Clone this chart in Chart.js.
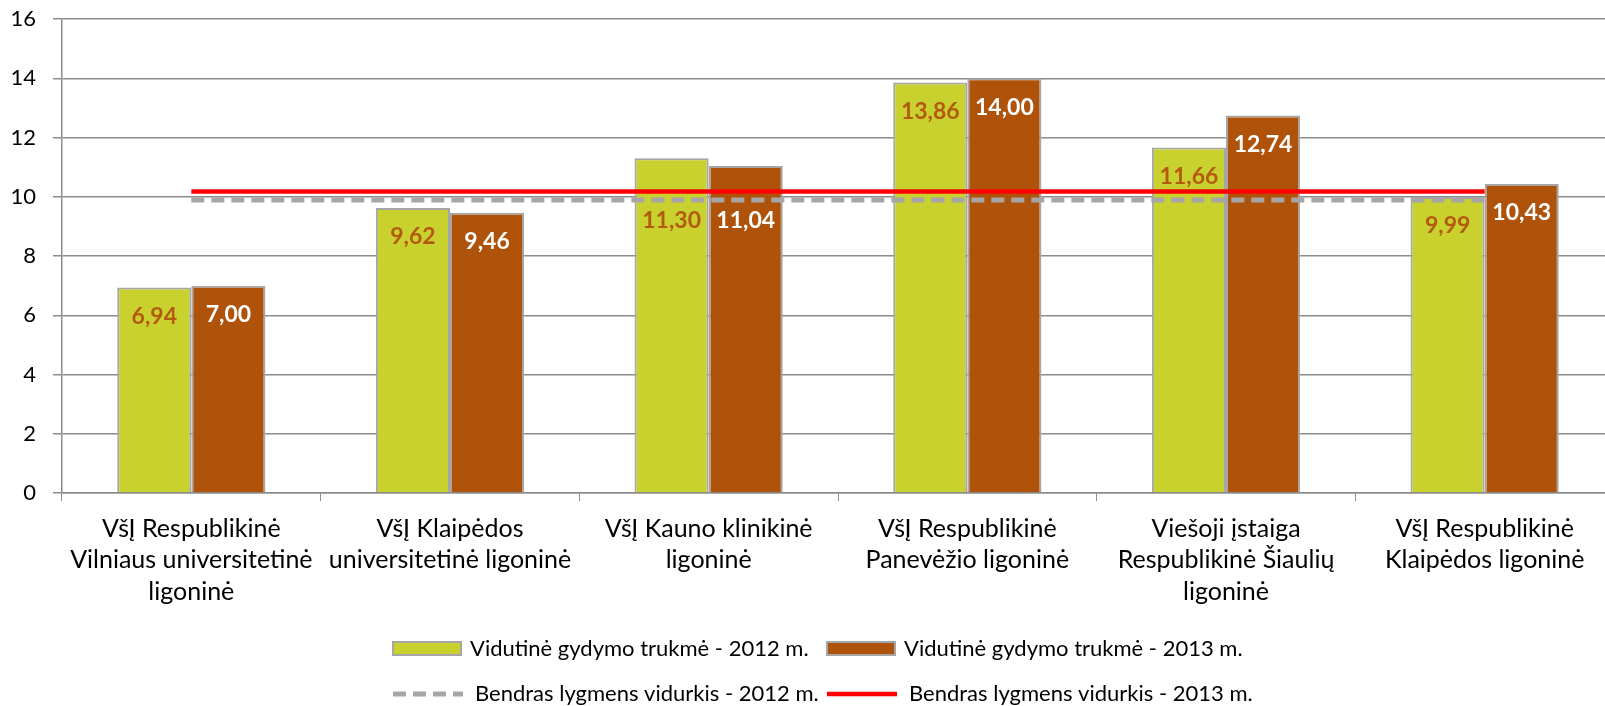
<!DOCTYPE html>
<html>
<head>
<meta charset="utf-8">
<script src="https://cdn.jsdelivr.net/npm/chart.js@4.4.0/dist/chart.umd.min.js"></script>
<style>
	html, body { margin: 0; padding: 0; background: #ffffff; overflow: hidden; }
	#grafico { display: block; }
</style>
</head>
<body>
<canvas id="grafico" width="1614" height="706"></canvas>
<script>
var ligonines = [
	["VšĮ Respublikinė", "Vilniaus universitetinė", "ligoninė"],
	["VšĮ Klaipėdos", "universitetinė ligoninė"],
	["VšĮ Kauno klinikinė", "ligoninė"],
	["VšĮ Respublikinė", "Panevėžio ligoninė"],
	["Viešoji įstaiga", "Respublikinė Šiaulių", "ligoninė"],
	["VšĮ Respublikinė", "Klaipėdos ligoninė"]
];
var trukme2012 = [6.94, 9.62, 11.30, 13.86, 11.66, 9.99];
var trukme2013 = [7.00, 9.46, 11.04, 14.00, 12.74, 10.43];
var vidurkis2012 = [9.89, 9.89, 9.89, 9.89, 9.89, 9.89];
var vidurkis2013 = [10.18, 10.18, 10.18, 10.18, 10.18, 10.18];
var pavadinimai = [
	"Vidutinė gydymo trukmė - 2012 m.",
	"Vidutinė gydymo trukmė - 2013 m.",
	"Bendras lygmens vidurkis - 2012 m.",
	"Bendras lygmens vidurkis - 2013 m."
];
var asiesZymes = [0, 2, 4, 6, 8, 10, 12, 14, 16];

var zalia = "#c9d12e";
var ruda = "#b0530a";
var pilka = "#a6a6a6";
var raudona = "#ff0000";
var sriftas = "Lato, 'Open Sans', sans-serif";

function formatuoja(v)
{
	return v.toFixed(2).replace(".", ",");
}

// etiketes bare virsuje; jei uzlipa ant vidurkio linijos - nuleidziam zemiau
var etiketes = {
	id: "etiketes",
	afterDatasetsDraw: function(chart) {
		var ctx = chart.ctx;
		var yAsis = chart.scales.y;
		var linijos = [];
		chart.data.datasets.forEach(function(ds) {
			if (ds.type == "line") linijos.push(yAsis.getPixelForValue(ds.data[0]));
		});
		var apacia = Math.max.apply(null, linijos);
		ctx.save();
		ctx.font = "bold 23px " + sriftas;
		ctx.textAlign = "center";
		ctx.textBaseline = "middle";
		chart.data.datasets.forEach(function(ds, i) {
			if (ds.type != "bar") return;
			var meta = chart.getDatasetMeta(i);
			ctx.fillStyle = ds.labelColor;
			meta.data.forEach(function(el, j) {
				var y = el.y + 29;
				var uzlipa = linijos.some(function(ly) { return Math.abs(ly - y) < 10; });
				if (uzlipa) y = apacia + 21;
				ctx.fillText(formatuoja(ds.data[j]), el.x, y);
			});
		});
		ctx.restore();
	}
};

// legenda dviem eilutem, dviem stulpeliais
var legenda = {
	id: "legenda",
	afterDraw: function(chart) {
		var ctx = chart.ctx;
		var eilutes = [[0, 1], [2, 3]];
		var yEil = [649, 694];
		var xStulp = [393, 827];
		ctx.save();
		ctx.font = "22px " + sriftas;
		ctx.textBaseline = "middle";
		eilutes.forEach(function(eil, r) {
			var y = yEil[r];
			eil.forEach(function(idx, c) {
				var x = xStulp[c];
				var ds = chart.data.datasets[idx];
				if (ds.type == "bar") {
					ctx.fillStyle = ds.backgroundColor;
					ctx.fillRect(x, y - 7, 68, 13);
					ctx.strokeStyle = pilka;
					ctx.lineWidth = 2;
					ctx.strokeRect(x, y - 7, 68, 13);
					ctx.fillStyle = "#000000";
					ctx.fillText(ds.label, x + 77, y);
				} else {
					ctx.strokeStyle = ds.borderColor;
					ctx.lineWidth = ds.borderWidth;
					ctx.setLineDash(ds.borderDash || []);
					ctx.beginPath();
					ctx.moveTo(x, y);
					ctx.lineTo(x + 70, y);
					ctx.stroke();
					ctx.setLineDash([]);
					ctx.fillStyle = "#000000";
					ctx.fillText(ds.label, x + 82, y);
				}
			});
		});
		ctx.restore();
	}
};

var ctx = document.getElementById("grafico");
var myChart = new Chart(ctx, {
	type: "bar",
	data: {
		labels: ligonines,
		datasets: [
			{
				type: "bar",
				label: pavadinimai[0],
				data: trukme2012,
				backgroundColor: zalia,
				borderColor: pilka,
				borderWidth: 2,
				labelColor: "#b35a0e",
				order: 1
			},
			{
				type: "bar",
				label: pavadinimai[1],
				data: trukme2013,
				backgroundColor: ruda,
				borderColor: pilka,
				borderWidth: 2,
				labelColor: "#ffffff",
				order: 1
			},
			{
				type: "line",
				label: pavadinimai[2],
				data: vidurkis2012,
				borderColor: pilka,
				borderWidth: 5,
				borderDash: [13, 7],
				pointRadius: 0,
				fill: false,
				order: 0
			},
			{
				type: "line",
				label: pavadinimai[3],
				data: vidurkis2013,
				borderColor: raudona,
				borderWidth: 4.5,
				pointRadius: 0,
				fill: false,
				order: 0
			}
		]
	},
	options: {
		responsive: false,
		animation: false,
		devicePixelRatio: 1,
		layout: {
			padding: { top: 19, right: 0, bottom: 96, left: 0 }
		},
		datasets: {
			bar: { categoryPercentage: 0.573, barPercentage: 1.0 }
		},
		plugins: {
			legend: { display: false },
			tooltip: { enabled: false }
		},
		scales: {
			x: {
				offset: true,
				grid: {
					offset: true,
					drawOnChartArea: false,
					drawTicks: true,
					tickLength: 8,
					color: "#8c8c8c"
				},
				border: { color: "#8c8c8c", width: 1.5 },
				ticks: {
					color: "#000000",
					padding: 12,
					maxRotation: 0,
					autoSkip: false,
					font: { family: sriftas, size: 25, lineHeight: 1.26 }
				},
				afterFit: function(scale) {
					scale.height = 117;
					scale.paddingTop = 0;
					scale.paddingBottom = 0;
				}
			},
			y: {
				min: 0,
				max: 16,
				afterBuildTicks: function(scale) {
					scale.ticks = asiesZymes.map(function(v) { return { value: v }; });
				},
				grid: {
					color: "#8c8c8c",
					lineWidth: 1.5,
					tickLength: 9
				},
				border: { color: "#8c8c8c", width: 1.5 },
				ticks: {
					color: "#000000",
					padding: 17,
					font: { family: sriftas, size: 22 }
				},
				afterFit: function(scale) {
					scale.width = 62;
					scale.paddingTop = 0;
					scale.paddingBottom = 0;
				}
			}
		}
	},
	plugins: [etiketes, legenda]
});
</script>
</body>
</html>
